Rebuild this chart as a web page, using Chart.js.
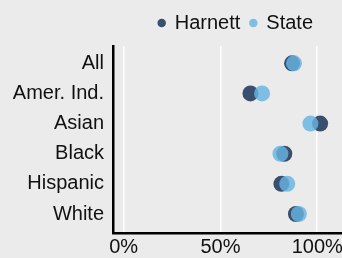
<!DOCTYPE html>
<html>
<head>
<meta charset="utf-8">
<script src="https://cdn.jsdelivr.net/npm/chart.js@4/dist/chart.umd.min.js"></script>
<style>
  html, body { margin: 0; padding: 0; background: #ebebeb; }
  #wrap { width: 342px; height: 258px; }
</style>
</head>
<body>
<div id="wrap"><canvas id="dotChart"></canvas></div>
<script>
// groups, top to bottom
var groups = ['All', 'Amer. Ind.', 'Asian', 'Black', 'Hispanic', 'White'];
// percent values
var harnett = [87, 65.5, 101.5, 83, 81.5, 89];
var state = [88, 71.5, 96.5, 81, 84.5, 90.5];
var xTicks = [0, 50, 100];

var fontFamily = "'Liberation Sans', Arial, sans-serif";

function toPoints(vals) {
  return vals.map(function (v, i) { return { x: v, y: i }; });
}

// move the legend in from the right and give it a bit more room below
var legendTweak = {
  id: 'legendTweak',
  beforeLayout: function (chart) {
    var lg = chart.legend;
    if (lg && !lg._tweaked) {
      var fit = lg.fit;
      lg.fit = function () {
        fit.call(this);
        this.height += 3;
      };
      lg._tweaked = true;
    }
  },
  afterLayout: function (chart) {
    chart.legend.right -= 19;
  }
};

new Chart(document.getElementById('dotChart'), {
  type: 'scatter',
  data: {
    datasets: [
      {
        label: 'Harnett',
        data: toPoints(harnett),
        backgroundColor: '#3a4e6e',
        borderWidth: 0,
        pointRadius: 8,
        pointHoverRadius: 8,
        order: 2
      },
      {
        label: 'State',
        data: toPoints(state),
        backgroundColor: 'rgba(103, 179, 225, 0.82)',
        borderWidth: 0,
        pointRadius: 8,
        pointHoverRadius: 8,
        order: 1
      }
    ]
  },
  options: {
    responsive: true,
    maintainAspectRatio: false,
    animation: false,
    layout: { autoPadding: false, padding: { left: 0, right: 0, top: 3, bottom: 0 } },
    plugins: {
      tooltip: { enabled: false },
      legend: {
        position: 'top',
        align: 'end',
        labels: {
          usePointStyle: true,
          pointStyle: 'circle',
          boxWidth: 6,
          boxHeight: 6,
          padding: 10,
          color: '#111111',
          font: { family: fontFamily, size: 20 },
          sort: function (a, b) { return a.datasetIndex - b.datasetIndex; }
        }
      }
    },
    scales: {
      x: {
        type: 'linear',
        min: -5.5,
        max: 112.8,
        afterBuildTicks: function (axis) {
          axis.ticks = xTicks.map(function (v) { return { value: v }; });
        },
        afterFit: function (axis) {
          axis.height = 25;
          axis.paddingLeft = 0;
          axis.paddingRight = 0;
        },
        ticks: {
          callback: function (v) { return v + '%'; },
          color: '#111111',
          padding: 4,
          maxRotation: 0,
          font: { family: fontFamily, size: 20, lineHeight: 1 }
        },
        grid: { color: '#ffffff', lineWidth: 1.5, drawTicks: false },
        border: { color: '#000000', width: 2.5 }
      },
      y: {
        type: 'linear',
        reverse: true,
        min: -0.574,
        max: 5.63,
        afterBuildTicks: function (axis) {
          axis.ticks = groups.map(function (g, i) { return { value: i }; });
        },
        afterFit: function (axis) {
          axis.width = 113;
        },
        ticks: {
          callback: function (v) { return groups[v]; },
          color: '#111111',
          padding: 9,
          font: { family: fontFamily, size: 20 }
        },
        grid: { display: false, drawTicks: false },
        border: { color: '#000000', width: 2.5 }
      }
    }
  },
  plugins: [legendTweak]
});
</script>
</body>
</html>
